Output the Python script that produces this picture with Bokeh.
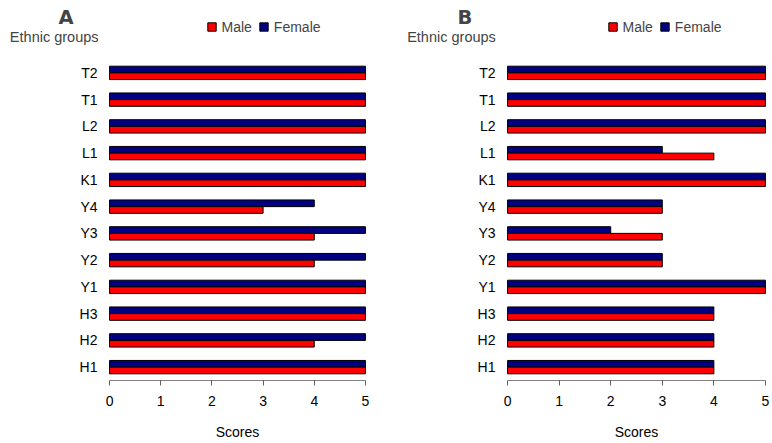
from bokeh.plotting import figure
from bokeh.models import (Range1d, FactorRange, FixedTicker, Label, Legend,
                          LegendItem, ColumnDataSource)
from bokeh.transform import dodge
from bokeh.layouts import row, column
from bokeh.embed import file_html
from bokeh.resources import INLINE

# ---- data (bottom to top) ----
groups = ["H1", "H2", "H3", "Y1", "Y2", "Y3", "Y4", "K1", "L1", "L2", "T1", "T2"]
a_male = [5, 4, 5, 5, 4, 4, 3, 5, 5, 5, 5, 5]
a_female = [5, 5, 5, 5, 5, 5, 4, 5, 5, 5, 5, 5]
b_male = [4, 4, 4, 5, 3, 3, 3, 5, 4, 5, 5, 5]
b_female = [4, 4, 4, 5, 3, 2, 3, 5, 3, 5, 5, 5]
score_ticks = [0, 1, 2, 3, 4, 5]
series = ["Male", "Female"]

FONT = "Liberation Sans"
FS = "14px"
LFS = "14px"
RED = "#ff0000"
NAVY = "#000080"
HEAD_H = 45
TOTAL_H = 443
NAN = float("nan")


def make_header(letter, width, letter_x, eg_x, legend_x):
    h = figure(width=width, height=HEAD_H, x_range=Range1d(0, width),
               y_range=Range1d(HEAD_H, 0), output_backend="svg",
               toolbar_location=None, x_axis_location=None, y_axis_location=None,
               min_border_left=0, min_border_right=0,
               min_border_top=0, min_border_bottom=0, frame_align=False)
    h.xgrid.visible = False
    h.ygrid.visible = False
    h.outline_line_color = None
    # legend proxies (no visible points)
    rm = h.scatter(x=[NAN], y=[NAN], marker="square", size=8, fill_color=RED, line_color="black")
    rf = h.scatter(x=[NAN], y=[NAN], marker="square", size=8, fill_color=NAVY, line_color="black")
    h.add_layout(Label(x=letter_x, y=17.3, text=letter, text_font="DejaVu Sans",
                       text_font_style="bold", text_font_size="19.5px",
                       text_align="center", text_baseline="alphabetic"))
    h.add_layout(Label(x=eg_x, y=36.5, text="Ethnic groups", text_font=FONT,
                       text_font_size="14.5px", text_align="center",
                       text_baseline="alphabetic"))
    legend = Legend(items=[LegendItem(label=series[0], renderers=[rm]),
                           LegendItem(label=series[1], renderers=[rf])],
                    orientation="horizontal", location=(legend_x, 8),
                    glyph_width=21, glyph_height=21, label_height=21,
                    label_standoff=-2, spacing=1, padding=0, margin=0,
                    border_line_color=None, background_fill_alpha=0,
                    label_text_font=FONT, label_text_font_size=LFS)
    h.add_layout(legend)
    return h


def make_panel(male, female, width, left, right):
    src = ColumnDataSource(dict(group=groups, male=male, female=female))
    p = figure(width=width, height=TOTAL_H - HEAD_H,
               y_range=FactorRange(factors=groups, range_padding=0),
               x_range=Range1d(-0.04, 5.04),
               output_backend="svg", toolbar_location=None,
               min_border_left=left, min_border_right=right,
               min_border_top=14, min_border_bottom=63, frame_align=False)
    p.hbar(y=dodge("group", 0.125, range=p.y_range), left=0, right="female",
           height=0.25, source=src, fill_color=NAVY, line_color="black", line_width=1)
    p.hbar(y=dodge("group", -0.125, range=p.y_range), left=0, right="male",
           height=0.25, source=src, fill_color=RED, line_color="black", line_width=1)

    p.xgrid.visible = False
    p.ygrid.visible = False
    p.outline_line_color = None

    xa = p.xaxis[0]
    xa.ticker = FixedTicker(ticks=score_ticks)
    xa.bounds = (0, 5)
    xa.axis_line_color = "#808080"
    xa.major_tick_line_color = "#606060"
    xa.major_tick_out = 5
    xa.major_tick_in = 0
    xa.minor_tick_out = 0
    xa.minor_tick_in = 0
    xa.major_label_standoff = 10
    xa.major_label_text_font = FONT
    xa.major_label_text_font_size = FS
    xa.major_label_text_color = "black"
    xa.axis_label = "Scores"
    xa.axis_label_standoff = 15
    xa.axis_label_text_font = FONT
    xa.axis_label_text_font_size = FS
    xa.axis_label_text_font_style = "normal"
    xa.axis_label_text_color = "black"

    ya = p.yaxis[0]
    ya.axis_line_color = None
    ya.major_tick_line_color = None
    ya.major_tick_out = 0
    ya.major_tick_in = 0
    ya.major_label_standoff = 10
    ya.major_label_text_font = FONT
    ya.major_label_text_font_size = FS
    ya.major_label_text_color = "black"
    return p


hA = make_header("A", 386, 65.5, 53.7, 200.5)
pA = make_panel(a_male, a_female, 386, 107, 19)
hB = make_header("B", 386, 78.5, 65, 215.5)
pB = make_panel(b_male, b_female, 386, 119, 5)

layout = row(column(hA, pA), column(hB, pB))
open("out.html", "w").write(file_html(layout, INLINE))
